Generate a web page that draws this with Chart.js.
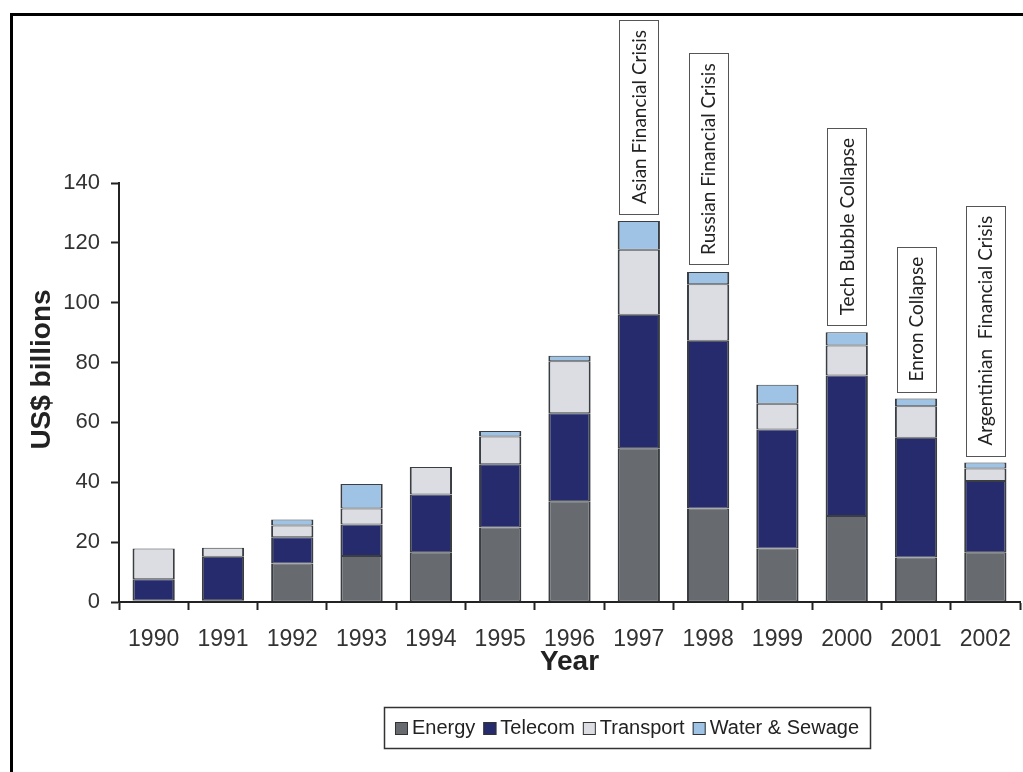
<!DOCTYPE html>
<html><head><meta charset="utf-8">
<script src="https://cdn.jsdelivr.net/npm/chart.js@4"></script>
<style>html,body{margin:0;padding:0;background:#fff;overflow:hidden}#wrap{width:1023px;height:772px;position:relative}</style>
</head><body><div id="wrap"><canvas id="c" width="1023" height="772"></canvas></div>
<script>
const years = ["1990","1991","1992","1993","1994","1995","1996","1997","1998","1999","2000","2001","2002"];
const energy    = [0.5, 0.6, 12.9, 15.4, 16.6, 24.9, 33.7, 51.4, 31.2, 17.9, 28.7, 14.9, 16.6];
const telecom   = [7.1, 14.5, 8.7, 10.5, 19.3, 21.1, 29.4, 44.6, 56.1, 39.7, 47.0, 40.0, 23.8];
const transport = [10.3, 3.0, 4.0, 5.3, 9.2, 9.3, 17.3, 21.7, 18.9, 8.6, 10.0, 10.5, 4.2];
const water     = [0, 0, 2.0, 8.2, 0, 1.8, 1.9, 9.6, 4.1, 6.4, 4.4, 2.6, 2.0];
const seriesNames = ["Energy", "Telecom", "Transport", "Water & Sewage"];
const eventYears = ["1997", "1998", "2000", "2001", "2002"];
const eventLabels = ["Asian Financial Crisis", "Russian Financial Crisis", "Tech Bubble Collapse", "Enron Collapse", "Argentinian  Financial Crisis"];
const yTitle = "US$ billions";
const xTitle = "Year";

const FONT = "'Liberation Sans', Arial, sans-serif";
const colors = ['#676b6f', '#252b6c', '#dcdde2', '#9ec3e5'];
const BORDER = '#3a3e42';

function ds(label, data, color) {
  return {
    label, data, backgroundColor: color, borderColor: BORDER,
    borderWidth: (c) => (c.raw ? {left: 2, right: 2, top: 1, bottom: 1} : 0),
    borderSkipped: false, barPercentage: 0.61, categoryPercentage: 1.0
  };
}

const extras = {
  id: 'extras',
  afterDraw(chart) {
    const ctx = chart.ctx;
    const xs = chart.scales.x, ys = chart.scales.y;
    ctx.save();
    // outer frame (left + top)
    ctx.fillStyle = '#000';
    ctx.fillRect(10, 13, 3, 772 - 13);
    ctx.fillRect(10, 13, 1023 - 10, 3);

    // y title
    ctx.save();
    ctx.translate(42, (chart.chartArea.top + chart.chartArea.bottom) / 2 - 23);
    ctx.rotate(-Math.PI / 2);
    ctx.font = `bold 28px ${FONT}`;
    ctx.fillStyle = '#222';
    ctx.textAlign = 'center';
    ctx.textBaseline = 'middle';
    ctx.fillText(yTitle, 0, 0);
    ctx.restore();

    // event annotations
    ctx.font = `19px Lato, 'Open Sans', sans-serif`;
    eventYears.forEach((yr, k) => {
      const idx = years.indexOf(yr);
      let total = 0;
      chart.data.datasets.forEach(d => total += d.data[idx]);
      const x = xs.getPixelForValue(idx);
      const yb = ys.getPixelForValue(total) - 7;
      const w = ctx.measureText(eventLabels[k]).width;
      const h = w + 20;
      const bw = 39;
      ctx.fillStyle = '#fff';
      ctx.fillRect(x - bw / 2, yb - h, bw, h);
      ctx.strokeStyle = '#555';
      ctx.lineWidth = 1;
      ctx.strokeRect(Math.round(x - bw / 2) + 0.5, Math.round(yb - h) + 0.5, bw, Math.round(h));
      ctx.save();
      ctx.translate(x + 1, yb - h / 2);
      ctx.rotate(-Math.PI / 2);
      ctx.fillStyle = '#222';
      ctx.textAlign = 'center';
      ctx.textBaseline = 'middle';
      ctx.fillText(eventLabels[k], 0, 0);
      ctx.restore();
    });

    // legend
    ctx.font = `20px ${FONT}`;
    const sw = 13, gapT = 4, gapI = 8;
    const items = chart.data.datasets.map(d => ({label: d.label, color: d.backgroundColor, w: ctx.measureText(d.label).width}));
    let total = 0;
    items.forEach((it, i) => { total += sw + gapT + it.w + (i ? gapI : 0); });
    const cx = 627, top = 707, bot = 748;
    const boxW = total + 22;
    ctx.fillStyle = '#fff';
    ctx.fillRect(cx - boxW / 2, top, boxW, bot - top);
    ctx.strokeStyle = '#333';
    ctx.lineWidth = 1.5;
    ctx.strokeRect(Math.round(cx - boxW / 2) + 0.5, top + 0.5, Math.round(boxW), bot - top);
    let x = cx - total / 2;
    const cy = (top + bot) / 2 + 1;
    items.forEach((it) => {
      ctx.fillStyle = it.color;
      ctx.fillRect(x, cy - sw / 2, sw, sw);
      ctx.strokeStyle = '#333';
      ctx.lineWidth = 1;
      ctx.strokeRect(x + 0.5, cy - sw / 2 + 0.5, sw - 1, sw - 1);
      ctx.fillStyle = '#222';
      ctx.textAlign = 'left';
      ctx.textBaseline = 'middle';
      ctx.fillText(it.label, x + sw + gapT, cy);
      x += sw + gapT + it.w + gapI;
    });
    ctx.restore();
  }
};

new Chart(document.getElementById('c'), {
  type: 'bar',
  data: {
    labels: years,
    datasets: [
      ds(seriesNames[0], energy, colors[0]),
      ds(seriesNames[1], telecom, colors[1]),
      ds(seriesNames[2], transport, colors[2]),
      ds(seriesNames[3], water, colors[3])
    ]
  },
  options: {
    responsive: false,
    animation: false,
    devicePixelRatio: 1,
    layout: {padding: {left: 20, top: 183, right: 3, bottom: 93}},
    plugins: {legend: {display: false}, tooltip: {enabled: false}},
    scales: {
      x: {
        stacked: true, offset: true,
        grid: {display: true, offset: true, drawOnChartArea: false, drawTicks: true, tickLength: 8, tickColor: '#222', tickWidth: 2},
        border: {display: true, color: '#222', width: 2},
        ticks: {color: '#333', font: {family: FONT, size: 23}, padding: 16, maxRotation: 0, autoSkip: false},
        title: {display: true, text: xTitle, color: '#222', font: {family: FONT, size: 28, weight: 'bold'}, padding: 0},
        afterFit: (s) => { s.height = 77; s.paddingLeft = 0; s.paddingRight = 0; }
      },
      y: {
        stacked: true, min: 0, max: 140,
        ticks: {stepSize: 20, color: '#333', font: {family: FONT, size: 22}, padding: 11},
        grid: {display: true, drawOnChartArea: false, drawTicks: true, tickLength: 8, tickColor: '#222', tickWidth: 2},
        border: {display: true, color: '#222', width: 2},
        afterFit: (s) => { s.width = 99; }
      }
    }
  },
  plugins: [extras]
});
</script>
</body></html>
